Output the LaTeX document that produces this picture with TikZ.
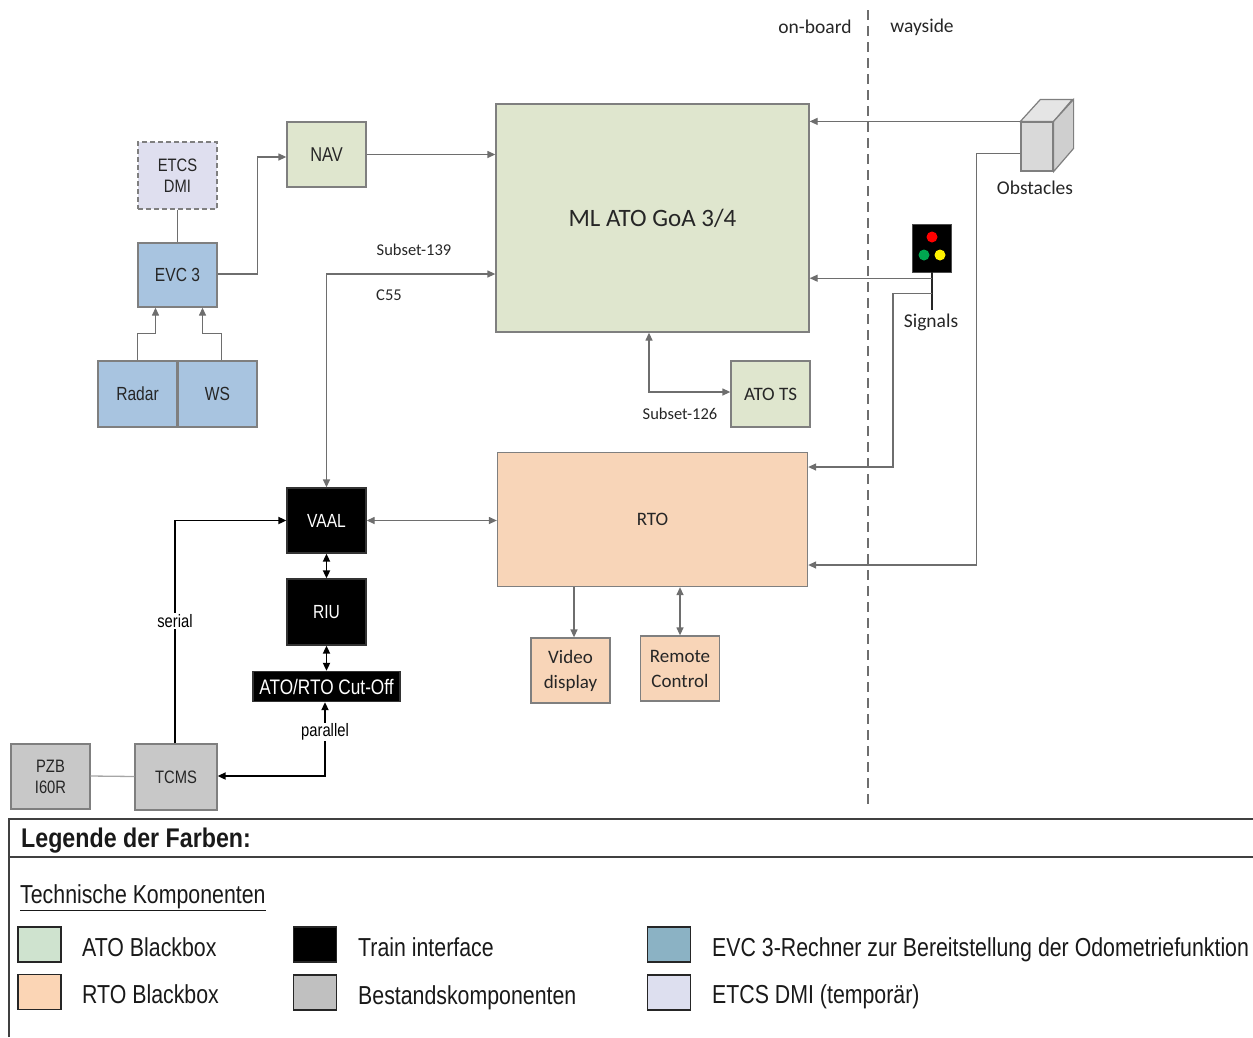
\documentclass[tikz,border=0pt]{standalone}
\usepackage{fontspec}
\setmainfont{Liberation Sans}
\newfontfamily\narrowfont[FakeStretch=0.82]{Liberation Sans}
\newfontfamily\narrowbold[FakeStretch=0.86]{Liberation Sans Bold}
\newfontfamily\calfont{Carlito}
\usetikzlibrary{arrows.meta}
\newcommand{\fsz}[2]{\fontsize{#1}{#2}\selectfont}
\definecolor{atogreen}{HTML}{DFE6CE}
\definecolor{rtopeach}{HTML}{F8D5B8}
\definecolor{evcblue}{HTML}{A8C4E0}
\definecolor{dmilav}{HTML}{DFDFEF}
\definecolor{oldgray}{HTML}{C8C8C8}
\definecolor{bordergray}{HTML}{7F7F7F}
\definecolor{linegray}{HTML}{6E6E6E}
\definecolor{txt}{HTML}{262626}
\definecolor{lgreen}{HTML}{CFE3CF}
\definecolor{lpeach}{HTML}{FBD5B5}
\definecolor{lblue}{HTML}{8BB2C4}
\definecolor{llav}{HTML}{DDDFEF}
\definecolor{lgray}{HTML}{C0C0C0}
\definecolor{sgreen}{HTML}{00A650}
\begin{document}
\begin{tikzpicture}[x=1pt,y=-1pt,
  blk/.style={draw=bordergray, line width=1.3pt, inner sep=0pt, align=center, text=txt},
  greenbox/.style={blk, fill=atogreen, font={\calfont\fsz{19}{23}}},
  peachbox/.style={blk, fill=rtopeach, font={\calfont\fsz{19}{25}}},
  bluebox/.style={blk, fill=evcblue, font={\narrowfont\fsz{19}{21}}},
  lavbox/.style={blk, fill=dmilav, dashed, dash pattern=on 5pt off 3pt, font={\narrowfont\fsz{18}{21}}},
  graybox/.style={blk, fill=oldgray, font={\narrowfont\fsz{18}{21}}},
  blackbox/.style={blk, draw=black!80, fill=black, text=white, font={\narrowfont\fsz{19}{21}}},
  sz/.style n args={2}{minimum width=#1pt, minimum height=#2pt},
  ar/.style={draw=linegray, line width=1.3pt, -{Triangle[length=8pt,width=7pt]}},
  ar2/.style={draw=linegray, line width=1.3pt, {Triangle[length=8pt,width=7pt]}-{Triangle[length=8pt,width=7pt]}},
  plain/.style={draw=linegray, line width=1.3pt},
  bar/.style={draw=black, line width=1.8pt, -{Triangle[length=8pt,width=7pt]}},
  bar2/.style={draw=black, line width=1.8pt, {Triangle[length=8pt,width=7pt]}-{Triangle[length=8pt,width=7pt]}},
  smalllbl/.style={inner sep=0pt, text=txt, font={\calfont\fsz{16.5}{20}}},
  callbl/.style={inner sep=0pt, text=txt, font={\calfont\fsz{19.5}{23}}},
  arlbl/.style={inner sep=1pt, fill=white, text=black, font={\narrowfont\fsz{18}{21}}},
  legbox/.style={draw=black!85, line width=1.2pt, minimum width=43pt, minimum height=35pt, inner sep=0pt},
  legtxt/.style={anchor=base west, inner sep=0pt, text=black!90, font={\narrowfont\fsz{26}{30}}},
  legline/.style={draw=black!75, line width=1.5pt}
]
\useasboundingbox (0,0) rectangle (1253,1037);

% on-board / wayside divider
\node[callbl] (onb) at (815,27) {on-board};
\node[callbl] (way) at (922,27) {wayside};
\coordinate (divtop) at (868,10);
\coordinate (divbot) at (868,810);
\draw[draw=linegray, line width=1.4pt, dash pattern=on 10pt off 6pt] (divtop) -- (divbot);

% nodes
\node[greenbox, sz={313}{228}, font={\calfont\fsz{25}{28}}] (mlato) at (652.5,218) {ML ATO GoA 3/4};
\node[greenbox, sz={79}{65}, font={\narrowfont\fsz{20}{22}}] (nav) at (326.5,154.5) {NAV};
\node[lavbox, sz={79}{67}] (etcs) at (177.5,175.5) {ETCS\\DMI};
\node[bluebox, sz={79}{64}] (evc) at (177.5,275) {EVC 3};
\node[bluebox, sz={79}{66}] (radar) at (137.5,394) {Radar};
\node[bluebox, sz={79}{66}] (ws) at (217.5,394) {WS};
\node[greenbox, sz={79}{66}] (atots) at (770.5,394) {ATO TS};
\node[peachbox, sz={310}{134}] (rto) at (652.5,519.5) {RTO};
\node[peachbox, sz={79}{65}] (video) at (570.5,670.5) {Video\\display};
\node[peachbox, sz={79}{65}] (remote) at (680,668.5) {Remote\\Control};
\node[blackbox, sz={79}{65}] (vaal) at (326.5,520.5) {VAAL};
\node[blackbox, sz={79}{66}] (riu) at (326.5,612) {RIU};
\node[blackbox, sz={147}{30}, font={\narrowfont\fsz{21}{23}}] (cutoff) at (326.5,686.5) {ATO/RTO Cut-Off};
\node[graybox, sz={79}{65}] (pzb) at (50.5,776.5) {PZB\\I60R};
\node[graybox, sz={82}{66}] (tcms) at (176,777) {TCMS};

% obstacles cube
\node[draw=bordergray, line width=1.2pt, fill=black!15, minimum width=32pt, minimum height=49pt, inner sep=0pt] (obst) at (1037,146.5) {};
\filldraw[draw=bordergray, line width=1.2pt, fill=black!10] (obst.north west) -- ++(20,-22) -- ++(32,0) -- (obst.north east) -- cycle;
\filldraw[draw=bordergray, line width=1.2pt, fill=black!19] (obst.north east) -- ++(20,-22) -- ++(0,49) -- (obst.south east) -- cycle;
\node[callbl] (obstlbl) at (1035,188) {Obstacles};

% signal
\node[draw=black!70, fill=black, minimum width=39pt, minimum height=48pt, inner sep=0pt] (sig) at (932,248) {};
\fill[red] ([yshift=11pt]sig.center) circle (5.5pt);
\fill[sgreen] ([xshift=-8pt,yshift=-7pt]sig.center) circle (5.5pt);
\fill[yellow] ([xshift=8pt,yshift=-7pt]sig.center) circle (5.5pt);
\node[callbl] (siglbl) at (931,322) {Signals};
\draw[draw=black!85, line width=2.6pt] (sig.south) -- ([yshift=3pt]siglbl.north -| sig.south);

% connectors
\draw[plain] (etcs.south) -- (evc.north);
\draw[ar] (radar.north) -- ++(0,-27) -| ([xshift=-22pt]evc.south);
\draw[ar] ([xshift=4pt]ws.north) -- ++(0,-27) -| ([xshift=25pt]evc.south);
\draw[ar] ([yshift=1pt]evc.east) -- ++(40,0) |- ([yshift=-2.5pt]nav.west);
\draw[ar] (nav.east) -- (nav.east -| mlato.west);
\draw[ar2] (vaal.north) |- ([yshift=-56pt]mlato.west);
\node[smalllbl] (s139) at (414,250) {Subset-139};
\node[smalllbl] (c55) at (389,295) {C55};
\draw[ar2] ([xshift=-3.5pt]mlato.south) |- ([yshift=2pt]atots.west);
\node[smalllbl] (s126) at (680,414) {Subset-126};

\draw[ar] (obst.north west) -- (mlato.east |- obst.north west);
\draw[ar] ([yshift=-32pt]obst.north west) -- ++(-44,0) |- ([yshift=-45.5pt]rto.east);

\path ([yshift=-6pt]sig.south) coordinate (s1);
\path ([yshift=-21pt]sig.south) coordinate (s2);
\draw[ar] (s1) -- (mlato.east |- s1);
\draw[ar] (s2) -- ++(-39,0) |- ([yshift=52.5pt]rto.east);

\draw[ar] ([xshift=3.5pt]video.north |- rto.south) -- ([xshift=3.5pt]video.north);
\draw[ar2] (remote.north |- rto.south) -- (remote.north);
\draw[ar2] (vaal.east) -- (vaal.east -| rto.west);

\draw[bar2] (vaal.south) -- (riu.north);
\draw[bar2] (riu.south) -- (cutoff.north);
\draw[bar] ([xshift=-1pt]tcms.north) |- (vaal.west);
\draw[bar2] ([xshift=-1.5pt]cutoff.south) |- ([yshift=1pt]tcms.east);
\draw[plain, draw=black!35] ([yshift=0.5pt]pzb.east) -- ([yshift=0.5pt]tcms.west);
\node[arlbl] (serial) at (175,621) {serial};
\node[arlbl] (parallel) at (325,732) {parallel};

% legend
\coordinate (lgA) at (9,1037);
\coordinate (lgB) at (9,819);
\coordinate (lgC) at (1253,819);
\coordinate (lgD) at (9,857);
\coordinate (lgE) at (1253,857);
\draw[legline] (lgA) -- (lgB) -- (lgC);
\draw[legline] (lgD) -- (lgE);
\node[anchor=base west, inner sep=0pt, text=black!90, font={\narrowbold\fsz{27}{30}}] (legtitle) at (21,847) {Legende der Farben:};
\node[legtxt] (techk) at (20,903) {\underline{Technische Komponenten}};

\node[legbox, fill=lgreen] (sw1) at (39.5,944.5) {};
\node[legbox, fill=lpeach] (sw2) at (39.5,992) {};
\node[legbox, fill=black] (sw3) at (315,944.5) {};
\node[legbox, fill=lgray] (sw4) at (315,992.5) {};
\node[legbox, fill=lblue] (sw5) at (669,944.5) {};
\node[legbox, fill=llav] (sw6) at (669,992.5) {};
\node[legtxt] (t1) at (82,956) {ATO Blackbox};
\node[legtxt] (t2) at (82,1003) {RTO Blackbox};
\node[legtxt] (t3) at (358,956) {Train interface};
\node[legtxt] (t4) at (358,1004) {Bestandskomponenten};
\node[legtxt] (t5) at (712,956) {EVC 3-Rechner zur Bereitstellung der Odometriefunktion};
\node[legtxt] (t6) at (712,1003) {ETCS DMI (temporär)};
\end{tikzpicture}
\end{document}
